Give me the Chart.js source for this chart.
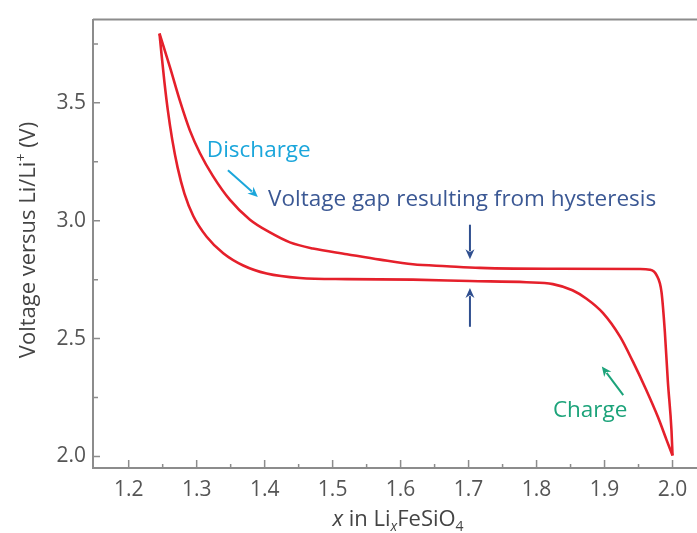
<!DOCTYPE html>
<html>
<head>
<meta charset="utf-8">
<script src="https://cdn.jsdelivr.net/npm/chart.js@4/dist/chart.umd.min.js"></script>
<style>
  html, body { margin: 0; padding: 0; background: #fff; }
  #chart { display: block; }
</style>
</head>
<body>
<canvas id="chart" width="697" height="533"></canvas>
<script>
// Upper branch (discharge): x in LixFeSiO4 vs voltage
const dischargeX = [1.2453, 1.2607, 1.2754, 1.2901, 1.3049, 1.3240, 1.3490, 1.3784, 1.4078, 1.4372, 1.4710, 1.5210, 1.5696, 1.6180, 1.6680, 1.7166, 1.8343, 1.9519, 1.9666, 1.9765, 1.9838, 1.9887, 1.9931, 1.9985, 2.0];
const dischargeV = [3.794, 3.651, 3.508, 3.382, 3.286, 3.189, 3.088, 3.004, 2.950, 2.908, 2.882, 2.858, 2.835, 2.815, 2.807, 2.800, 2.796, 2.795, 2.792, 2.769, 2.697, 2.529, 2.319, 2.109, 2.004];

// Lower branch (charge)
const chargeX = [1.2453, 1.2485, 1.2525, 1.2575, 1.2640, 1.2720, 1.2820, 1.2950, 1.3147, 1.3391, 1.3685, 1.4029, 1.4519, 1.5206, 1.6180, 1.7020, 1.7850, 1.8240, 1.8528, 1.8735, 1.8975, 1.9228, 1.9416, 1.9607, 1.9784, 1.9916, 2.0];
const chargeV = [3.794, 3.700, 3.590, 3.470, 3.345, 3.225, 3.115, 3.020, 2.932, 2.862, 2.810, 2.776, 2.757, 2.752, 2.750, 2.744, 2.739, 2.731, 2.705, 2.669, 2.609, 2.508, 2.403, 2.286, 2.168, 2.067, 2.004];

// Axis ticks
const xMajorTicks = [1.2, 1.3, 1.4, 1.5, 1.6, 1.7, 1.8, 1.9, 2.0];
const xMinorTicks = [1.25, 1.35, 1.45, 1.55, 1.65, 1.75, 1.85, 1.95];
const yMajorTicks = [2.0, 2.5, 3.0, 3.5];
const yMinorTicks = [2.25, 2.75, 3.25, 3.75];

const FONT = '"Open Sans", "DejaVu Sans", sans-serif';
const RED = '#e5202b';
const AXIS = '#8c8c8c';

const toPoints = (xs, ys) => xs.map((x, i) => ({ x: x, y: ys[i] }));

// annotation texts and arrows (data coordinates)
const notes = [
  { text: 'Discharge', x: 1.315, y: 3.298, color: '#1ba6db' },
  { text: 'Voltage gap resulting from hysteresis', x: 1.405, y: 3.088, color: '#3b5894' },
  { text: 'Charge', x: 1.824, y: 2.193, color: '#1ca37a' }
];
const arrows = [
  { from: [1.346, 3.214], to: [1.390, 3.101], color: '#1ba6db' },
  { from: [1.702, 2.983], to: [1.702, 2.836], color: '#2f4f8f' },
  { from: [1.702, 2.550], to: [1.702, 2.714], color: '#2f4f8f' },
  { from: [1.9275, 2.260], to: [1.896, 2.382], color: '#1ca37a' }
];

function drawArrow(ctx, x1, y1, x2, y2, color) {
  const ang = Math.atan2(y2 - y1, x2 - x1);
  const head = 10, wing = 4.5;
  ctx.save();
  ctx.strokeStyle = color;
  ctx.fillStyle = color;
  ctx.lineWidth = 2;
  ctx.beginPath();
  ctx.moveTo(x1, y1);
  ctx.lineTo(x2 - Math.cos(ang) * head * 0.8, y2 - Math.sin(ang) * head * 0.8);
  ctx.stroke();
  ctx.beginPath();
  ctx.moveTo(x2, y2);
  ctx.lineTo(x2 - Math.cos(ang) * head - Math.sin(ang) * wing, y2 - Math.sin(ang) * head + Math.cos(ang) * wing);
  ctx.lineTo(x2 - Math.cos(ang) * head * 0.7, y2 - Math.sin(ang) * head * 0.7);
  ctx.lineTo(x2 - Math.cos(ang) * head + Math.sin(ang) * wing, y2 - Math.sin(ang) * head - Math.cos(ang) * wing);
  ctx.closePath();
  ctx.fill();
  ctx.restore();
}

// draws runs of text with different fonts / baseline shifts
function drawRuns(ctx, runs, x, y) {
  let cx = x;
  runs.forEach(r => {
    ctx.font = r.font;
    ctx.fillText(r.t, cx, y + (r.dy || 0));
    cx += ctx.measureText(r.t).width;
  });
}
function runsWidth(ctx, runs) {
  let w = 0;
  runs.forEach(r => { ctx.font = r.font; w += ctx.measureText(r.t).width; });
  return w;
}

const framePlugin = {
  id: 'frame',
  afterDraw(chart) {
    const ctx = chart.ctx;
    const area = chart.chartArea;
    const xs = chart.scales.x, ys = chart.scales.y;

    ctx.save();
    ctx.strokeStyle = AXIS;
    ctx.lineWidth = 2;
    // top frame line
    ctx.beginPath();
    ctx.moveTo(area.left, area.top);
    ctx.lineTo(area.right, area.top);
    ctx.stroke();

    // inward tick marks
    ctx.lineWidth = 1.5;
    ctx.beginPath();
    xMajorTicks.forEach(v => { const p = xs.getPixelForValue(v); ctx.moveTo(p, area.bottom); ctx.lineTo(p, area.bottom - 8); });
    xMinorTicks.forEach(v => { const p = xs.getPixelForValue(v); ctx.moveTo(p, area.bottom); ctx.lineTo(p, area.bottom - 4); });
    yMajorTicks.forEach(v => { const p = ys.getPixelForValue(v); ctx.moveTo(area.left, p); ctx.lineTo(area.left + 7, p); });
    yMinorTicks.forEach(v => { const p = ys.getPixelForValue(v); ctx.moveTo(area.left, p); ctx.lineTo(area.left + 5, p); });
    ctx.stroke();

    // annotations
    ctx.textBaseline = 'middle';
    ctx.textAlign = 'left';
    ctx.font = '22.5px ' + FONT;
    notes.forEach(n => {
      ctx.fillStyle = n.color;
      ctx.fillText(n.text, xs.getPixelForValue(n.x), ys.getPixelForValue(n.y));
    });
    arrows.forEach(a => {
      drawArrow(ctx, xs.getPixelForValue(a.from[0]), ys.getPixelForValue(a.from[1]),
        xs.getPixelForValue(a.to[0]), ys.getPixelForValue(a.to[1]), a.color);
    });

    // x axis title: x in LixFeSiO4
    ctx.fillStyle = '#444';
    ctx.textBaseline = 'alphabetic';
    const xRuns = [
      { t: 'x', font: 'italic 22px ' + FONT },
      { t: ' in Li', font: '22px ' + FONT },
      { t: 'x', font: 'italic 14px ' + FONT, dy: 5 },
      { t: 'FeSiO', font: '22px ' + FONT },
      { t: '4', font: '14px ' + FONT, dy: 5 }
    ];
    const xw = runsWidth(ctx, xRuns);
    drawRuns(ctx, xRuns, 398 - xw / 2, 526);

    // y axis title: Voltage versus Li/Li+ (V)
    const yRuns = [
      { t: 'Voltage versus Li/Li', font: '22px ' + FONT },
      { t: '+', font: '14px ' + FONT, dy: -9 },
      { t: ' (V)', font: '22px ' + FONT }
    ];
    const yw = runsWidth(ctx, yRuns);
    ctx.translate(35, 240);
    ctx.rotate(-Math.PI / 2);
    drawRuns(ctx, yRuns, -yw / 2, 0);
    ctx.restore();
  }
};

new Chart(document.getElementById('chart'), {
  type: 'scatter',
  data: {
    datasets: [
      { label: 'Discharge', data: toPoints(dischargeX, dischargeV) },
      { label: 'Charge', data: toPoints(chargeX, chargeV) }
    ]
  },
  options: {
    responsive: false,
    animation: false,
    showLine: true,
    layout: { padding: { top: 15, left: 0, right: 0, bottom: 0 } },
    elements: {
      point: { radius: 0, hoverRadius: 0 },
      line: { borderColor: RED, borderWidth: 2.6, cubicInterpolationMode: 'monotone', fill: false }
    },
    plugins: {
      legend: { display: false },
      tooltip: { enabled: false }
    },
    scales: {
      x: {
        type: 'linear',
        min: 1.1475,
        max: 2.036,
        afterBuildTicks: s => { s.ticks = xMajorTicks.map(v => ({ value: v })); },
        afterFit: s => { s.height = 65; },
        grid: { display: false, drawTicks: false },
        border: { display: true, color: AXIS, width: 2 },
        ticks: {
          color: '#555',
          font: { family: FONT, size: 21 },
          padding: 9,
          maxRotation: 0,
          callback: v => Number(v).toFixed(1)
        }
      },
      y: {
        type: 'linear',
        min: 1.951,
        max: 3.853,
        afterBuildTicks: s => { s.ticks = yMajorTicks.map(v => ({ value: v })); },
        afterFit: s => { s.width = 93; },
        grid: { display: false, drawTicks: false },
        border: { display: true, color: AXIS, width: 2 },
        ticks: {
          color: '#555',
          font: { family: FONT, size: 21 },
          padding: 7,
          callback: v => Number(v).toFixed(1)
        }
      }
    }
  },
  plugins: [framePlugin]
});
</script>
</body>
</html>
